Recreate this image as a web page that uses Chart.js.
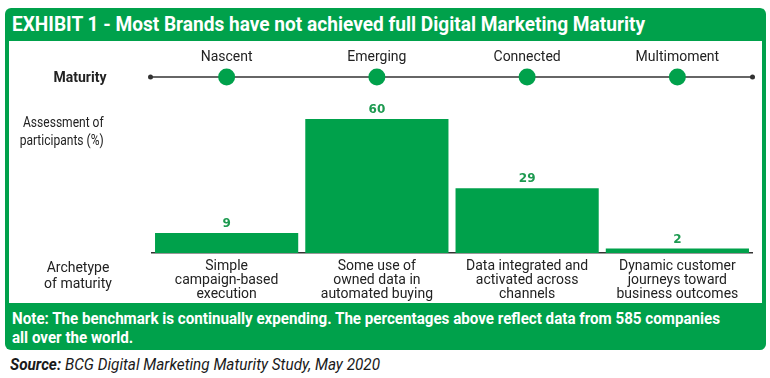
<!DOCTYPE html>
<html><head><meta charset="utf-8">
<script src="https://cdn.jsdelivr.net/npm/chart.js@4.4.1/dist/chart.umd.min.js"></script>
<style>
body{margin:0;width:770px;height:378px;background:#fff;position:relative;overflow:hidden;font-family:Roboto,sans-serif;}
#frame{position:absolute;left:5px;top:8px;width:761px;height:342px;background:#00a14b;border-radius:6px;}
#inner{position:absolute;left:9px;top:41px;width:753px;height:262px;background:#fff;}
.fit{position:absolute;white-space:nowrap;transform-origin:0 0;display:inline-block;}
.fitr{position:absolute;white-space:nowrap;transform-origin:100% 0;display:inline-block;text-align:right;}
#title{left:12px;top:10px;color:#fff;font-weight:bold;font-size:21px;line-height:28px;}
#note{left:12px;top:309px;color:#fff;font-weight:bold;font-size:16.5px;line-height:19px;}
#source{left:10px;top:355px;color:#1a1a1a;font-style:italic;font-size:16px;line-height:20px;}
#cv{position:absolute;left:9px;top:40px;}
.lbl{position:absolute;color:#222;font-size:14px;line-height:17px;white-space:nowrap;}
</style></head>
<body>
<div id="frame"></div>
<div id="inner"></div>
<div id="title" class="fit" data-w="633">EXHIBIT 1 - Most Brands have not achieved full Digital Marketing Maturity</div>
<canvas id="cv" width="753" height="263"></canvas>
<div class="lbl" style="left:30px;top:69px;width:100px;text-align:center;font-weight:bold;">Maturity</div>
<div id="assess" class="lbl fitr" data-w="84" style="top:113px;font-size:15px;line-height:18px;">Assessment of<br>participants (%)</div>
<div class="lbl" style="left:28px;top:259px;width:100px;text-align:center;line-height:16px;">Archetype<br>of maturity</div>
<div id="note" class="fit" data-w="708">Note: The benchmark is continually expending. The percentages above reflect data from 585 companies<br>all over the world.</div>
<div id="source" class="fit" data-w="370"><b>Source:</b> BCG Digital Marketing Maturity Study, May 2020</div>
<script>
const categories = [
  ['Simple','campaign-based','execution'],
  ['Some use of','owned data in','automated buying'],
  ['Data integrated and','activated across','channels'],
  ['Dynamic customer','journeys toward','business outcomes']
];
const stages = ['Nascent','Emerging','Connected','Multimoment'];
const shares = [9, 60, 29, 2];

const GREEN = '#00a14b';
const FONT = 'Roboto,sans-serif';

document.querySelectorAll('.fit, .fitr').forEach(el => {
  const w = el.getBoundingClientRect().width;
  const t = parseFloat(el.dataset.w);
  el.style.transform = 'scaleX(' + (t / w) + ')';
  if (el.classList.contains('fitr')) el.style.left = (104 - w) + 'px';
});

const overlay = {
  id: 'overlay',
  afterDatasetsDraw(chart) {
    const ctx = chart.ctx, xs = chart.scales.x, ca = chart.chartArea;
    ctx.save();
    ctx.fillStyle = '#1d9a50';
    ctx.font = 'bold 12px "DejaVu Sans",sans-serif';
    ctx.textAlign = 'center';
    ctx.textBaseline = 'bottom';
    chart.getDatasetMeta(0).data.forEach((bar, i) => {
      ctx.fillText(String(shares[i]), bar.x, bar.y - 3);
    });
    const ly = 37;
    ctx.strokeStyle = '#333';
    ctx.lineWidth = 1.5;
    ctx.beginPath();
    ctx.moveTo(ca.left - 1, ly);
    ctx.lineTo(ca.right, ly);
    ctx.stroke();
    ctx.fillStyle = '#333';
    [ca.left - 1, ca.right].forEach(x => {
      ctx.beginPath(); ctx.arc(x, ly, 2.5, 0, Math.PI * 2); ctx.fill();
    });
    ctx.font = '14px ' + FONT;
    ctx.textBaseline = 'middle';
    stages.forEach((s, i) => {
      const x = xs.getPixelForValue(i);
      ctx.fillStyle = GREEN;
      ctx.beginPath(); ctx.arc(x, ly, 8.5, 0, Math.PI * 2); ctx.fill();
      ctx.fillStyle = '#222';
      ctx.fillText(s, x, 17);
    });
    ctx.restore();
  }
};

new Chart(document.getElementById('cv'), {
  type: 'bar',
  data: {
    labels: categories,
    datasets: [{
      data: shares,
      backgroundColor: GREEN,
      borderWidth: 0,
      barPercentage: 0.953,
      categoryPercentage: 1
    }]
  },
  options: {
    responsive: false,
    animation: false,
    events: [],
    layout: { padding: { left: 142.5, right: 9.5, top: 45.5, bottom: 0 } },
    plugins: { legend: { display: false }, tooltip: { enabled: false } },
    scales: {
      x: {
        grid: { display: false },
        border: { display: true, color: '#333', width: 1.5 },
        ticks: { color: '#222', padding: -2, maxRotation: 0, autoSkip: false,
                 font: { family: FONT, size: 14, lineHeight: 1.0 } },
        afterFit(scale) { scale.height = 50; }
      },
      y: {
        display: false,
        min: 0, max: 75
      }
    }
  },
  plugins: [overlay]
});
</script>
</body></html>
